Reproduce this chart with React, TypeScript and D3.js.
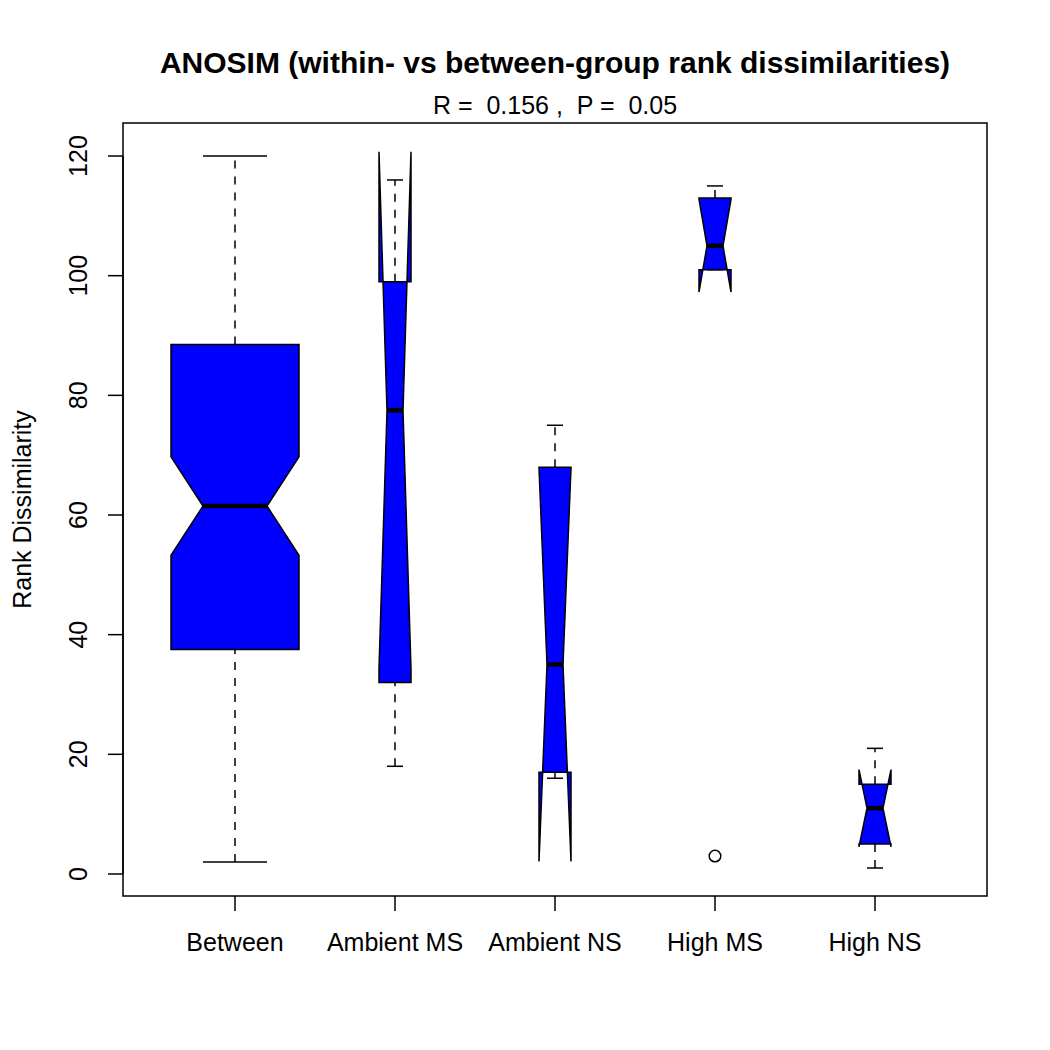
import React from 'react';
import * as d3 from 'd3';

const categories = ['Between', 'Ambient MS', 'Ambient NS', 'High MS', 'High NS'];
const counts = [96, 6, 6, 6, 6];
const whiskerLow = [2, 18, 16, 101, 1];
const lowerHinge = [37.5, 32, 17, 101, 5];
const medians = [61.5, 77.5, 35, 105, 11];
const upperHinge = [88.5, 99, 68, 113, 15];
const whiskerHigh = [120, 116, 75, 115, 21];
const outlierGroups = [3];
const outlierValues = [3];
const yTicks = [0, 20, 40, 60, 80, 100, 120];

const titleText = 'ANOSIM (within- vs between-group rank dissimilarities)';
const subtitleText = 'R =  0.156 ,  P =  0.05';
const yLabel = 'Rank Dissimilarity';

const FONT = '"Liberation Sans", Arial, Helvetica, sans-serif';
const BLUE = '#0000FF';

export default function App() {
  const left = 123, right = 987, top = 123, bottom = 896;
  const x = d3.scaleLinear().domain([0.3, 5.7]).range([left, right]);
  const y = d3.scaleLinear().domain([-3.68, 125.52]).range([bottom, top]);
  const maxN = d3.max(counts) as number;
  const lw = 1.5;

  const boxes = categories.map((cat, i) => {
    const cx = i + 1;
    const wid = (0.8 * Math.sqrt(counts[i] / maxN)) / 2;
    const iqr = upperHinge[i] - lowerHinge[i];
    const conf = [
      medians[i] - (1.58 * iqr) / Math.sqrt(counts[i]),
      medians[i] + (1.58 * iqr) / Math.sqrt(counts[i]),
    ];
    const nf = 0.5;
    const xx = [-1, 1, 1, nf, 1, 1, -1, -1, -nf, -1].map((k) => x(cx + wid * k));
    const yy = [
      lowerHinge[i], lowerHinge[i], conf[0], medians[i], conf[1],
      upperHinge[i], upperHinge[i], conf[1], medians[i], conf[0],
    ].map((v) => y(v));
    const pts = xx.map((px, j) => `${px},${yy[j]}`).join(' ');
    return (
      <g key={cat}>
        <polygon points={pts} fill={BLUE} stroke="#000" strokeWidth={lw} strokeLinejoin="miter" />
        <line x1={x(cx - wid * nf)} x2={x(cx + wid * nf)} y1={y(medians[i])} y2={y(medians[i])}
          stroke="#000" strokeWidth={4.5} />
        <line x1={x(cx)} x2={x(cx)} y1={y(whiskerLow[i])} y2={y(lowerHinge[i])}
          stroke="#000" strokeWidth={lw} strokeDasharray="8,8" />
        <line x1={x(cx)} x2={x(cx)} y1={y(upperHinge[i])} y2={y(whiskerHigh[i])}
          stroke="#000" strokeWidth={lw} strokeDasharray="8,8" />
        <line x1={x(cx - wid * 0.5)} x2={x(cx + wid * 0.5)} y1={y(whiskerLow[i])} y2={y(whiskerLow[i])}
          stroke="#000" strokeWidth={lw} />
        <line x1={x(cx - wid * 0.5)} x2={x(cx + wid * 0.5)} y1={y(whiskerHigh[i])} y2={y(whiskerHigh[i])}
          stroke="#000" strokeWidth={lw} />
      </g>
    );
  });

  return (
    <svg width={1050} height={1050} style={{ position: 'absolute', left: 0, top: 0, background: '#fff' }}
      fontFamily={FONT}>
      <rect x={0} y={0} width={1050} height={1050} fill="#fff" />
      {boxes}
      {outlierGroups.map((g, i) => (
        <circle key={i} cx={x(g + 1)} cy={y(outlierValues[i])} r={5.8} fill="none" stroke="#000" strokeWidth={lw} />
      ))}
      <rect x={left} y={top} width={right - left} height={bottom - top} fill="none" stroke="#000" strokeWidth={lw} />
      {/* y axis */}
      <line x1={left - 15} x2={left - 15} y1={y(yTicks[0])} y2={y(yTicks[yTicks.length - 1])} stroke="none" />
      <line x1={left} x2={left} y1={y(yTicks[0])} y2={y(yTicks[yTicks.length - 1])} stroke="#000" strokeWidth={lw} />
      {yTicks.map((t) => (
        <g key={t}>
          <line x1={left - 15} x2={left} y1={y(t)} y2={y(t)} stroke="#000" strokeWidth={lw} />
          <text transform={`translate(87,${y(t)}) rotate(-90)`} textAnchor="middle" fontSize={25} fill="#000">{t}</text>
        </g>
      ))}
      {/* x axis */}
      {categories.map((c, i) => (
        <g key={c}>
          <line x1={x(i + 1)} x2={x(i + 1)} y1={bottom} y2={bottom + 15} stroke="#000" strokeWidth={lw} />
          <text x={x(i + 1)} y={951} textAnchor="middle" fontSize={25} fill="#000">{c}</text>
        </g>
      ))}
      <text x={(left + right) / 2} y={73} textAnchor="middle" fontSize={30} fontWeight="bold" fill="#000">{titleText}</text>
      <text x={(left + right) / 2} y={114} textAnchor="middle" fontSize={25} fill="#000" style={{ whiteSpace: 'pre' }}>{subtitleText}</text>
      <text transform={`translate(31,${(top + bottom) / 2}) rotate(-90)`} textAnchor="middle" fontSize={25} fill="#000">{yLabel}</text>
    </svg>
  );
}
